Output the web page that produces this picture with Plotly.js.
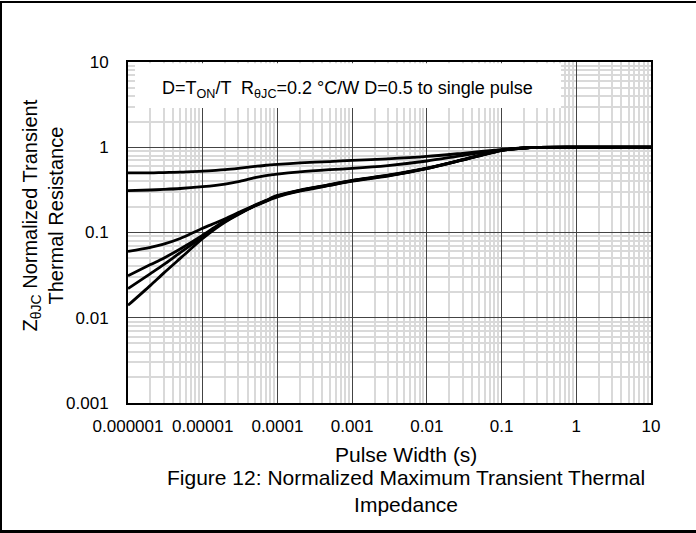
<!DOCTYPE html>
<html>
<head>
<meta charset="utf-8">
<script src="https://cdn.plot.ly/plotly-3.0.1.min.js"></script>
<style>
  html, body { margin: 0; padding: 0; background: #fff; overflow: hidden; }
  .fl { position: absolute; background: #000; }
  #chart { position: absolute; left: 0; top: 0; width: 696px; height: 533px; }
</style>
</head>
<body>
<div id="chart"></div>
<div class="fl" style="left:0;top:1px;width:696px;height:2px;"></div>
<div class="fl" style="left:0;top:1px;width:2px;height:531px;"></div>
<div class="fl" style="left:0;top:530px;width:696px;height:3px;"></div>
<script>
// Pulse width (s)
const pulseWidth = [1e-6, 2e-6, 3e-6, 5e-6, 1e-5, 1.5e-5, 2e-5, 3e-5, 5e-5, 7e-5, 1e-4, 2e-4, 5e-4, 1e-3, 3e-3, 1e-2, 3e-2, 1e-1, 2e-1, 3e-1, 1, 10];
// Normalized transient thermal resistance per duty cycle
const zD05   = [0.50, 0.50, 0.505, 0.51, 0.525, 0.535, 0.545, 0.565, 0.595, 0.615, 0.63, 0.655, 0.68, 0.70, 0.73, 0.78, 0.85, 0.94, 0.98, 0.995, 1.0, 1.0];
const zD03   = [0.31, 0.315, 0.32, 0.328, 0.345, 0.358, 0.37, 0.395, 0.44, 0.465, 0.485, 0.515, 0.545, 0.565, 0.61, 0.69, 0.80, 0.93, 0.98, 0.995, 1.0, 1.0];
const zD01   = [0.060, 0.067, 0.073, 0.085, 0.112, 0.130, 0.145, 0.171, 0.210, 0.238, 0.272, 0.315, 0.365, 0.41, 0.47, 0.57, 0.715, 0.925, 0.98, 0.995, 1.0, 1.0];
const zD005  = [0.031, 0.042, 0.050, 0.064, 0.093, 0.118, 0.137, 0.166, 0.207, 0.235, 0.268, 0.312, 0.362, 0.407, 0.467, 0.567, 0.712, 0.92, 0.98, 0.995, 1.0, 1.0];
const zD002  = [0.022, 0.033, 0.042, 0.058, 0.089, 0.115, 0.135, 0.165, 0.206, 0.234, 0.266, 0.309, 0.359, 0.404, 0.464, 0.564, 0.709, 0.918, 0.98, 0.995, 1.0, 1.0];
const zSingle= [0.014, 0.024, 0.0334, 0.0497, 0.085, 0.112, 0.133, 0.163, 0.204, 0.232, 0.262, 0.306, 0.357, 0.40, 0.46, 0.56, 0.705, 0.915, 0.98, 0.995, 1.0, 1.0];

const seriesNames = ['D=0.5', 'D=0.3', 'D=0.1', 'D=0.05', 'D=0.02', 'Single pulse'];
const seriesValues = [zD05, zD03, zD01, zD005, zD002, zSingle];

const xTickVals = [1e-6, 1e-5, 1e-4, 1e-3, 1e-2, 1e-1, 1, 10];
const xTickText = ['0.000001', '0.00001', '0.0001', '0.001', '0.01', '0.1', '1', '10'];
const yTickVals = [0.001, 0.01, 0.1, 1, 10];
const yTickText = ['0.001', '0.01', '0.1', '1', '10'];

function minorVals(majors) {
  const out = [];
  for (let i = 0; i < majors.length - 1; i++) {
    for (let k = 2; k <= 9; k++) out.push(majors[i] * k);
  }
  return out;
}

const traces = seriesValues.map((v, i) => ({
  type: 'scatter', mode: 'lines', name: seriesNames[i],
  x: pulseWidth, y: v,
  line: { color: '#000', width: 2.8, shape: 'spline', smoothing: 0.8 },
  hoverinfo: 'skip'
}));

const font = 'Liberation Sans, Arial, sans-serif';

const axisCommon = {
  type: 'log', tickmode: 'array', showline: true, linecolor: '#000', linewidth: 2, mirror: true,
  showgrid: true, gridcolor: '#444', gridwidth: 1, zeroline: false, ticks: '',
  tickfont: { family: font, size: 17, color: '#000' }
};

const layout = {
  width: 696, height: 533,
  margin: { l: 128, r: 45, t: 62, b: 130 },
  paper_bgcolor: 'rgba(0,0,0,0)', plot_bgcolor: '#fff',
  showlegend: false,
  xaxis: Object.assign({}, axisCommon, {
    range: [-6, 1], tickvals: xTickVals, ticktext: xTickText, ticklabelstandoff: 7,
    minor: { tickmode: 'array', tickvals: minorVals(xTickVals), showgrid: true, gridcolor: '#d9d9d9', gridwidth: 2, ticks: '' }
  }),
  yaxis: Object.assign({}, axisCommon, {
    range: [-3, 1], tickvals: yTickVals, ticktext: yTickText, ticklabelstandoff: 14,
    minor: { tickmode: 'array', tickvals: minorVals(yTickVals), showgrid: true, gridcolor: '#d9d9d9', gridwidth: 2, ticks: '' }
  }),
  shapes: [{
    type: 'rect', xref: 'paper', yref: 'paper', layer: 'above',
    x0: 0.0134, x1: 0.828, y0: 0.865, y1: 0.996,
    fillcolor: '#fff', line: { width: 0 }
  }],
  annotations: [
    {
      xref: 'paper', yref: 'paper', x: 0.42, y: 0.92, xanchor: 'center', yanchor: 'middle',
      text: 'D=T<sub>ON</sub>/T  R<sub>θJC</sub>=0.2 °C/W D=0.5 to single pulse', showarrow: false,
      font: { family: font, size: 18, color: '#000' }
    },
    {
      xref: 'paper', yref: 'paper', x: -0.1625, y: 0.55, xanchor: 'center', yanchor: 'middle',
      textangle: -90, showarrow: false,
      text: 'Z<sub>θJC</sub> Normalized Transient<br>Thermal Resistance',
      font: { family: font, size: 20, color: '#000' }
    },
    {
      xref: 'paper', yref: 'paper', x: 0.5315, y: -0.1496, xanchor: 'center', yanchor: 'middle',
      text: 'Pulse Width (s)', showarrow: false,
      font: { family: font, size: 21, color: '#000' }
    },
    {
      xref: 'paper', yref: 'paper', x: 0.5315, y: -0.2595, xanchor: 'center', yanchor: 'middle',
      text: 'Figure 12: Normalized Maximum Transient Thermal<br>Impedance', showarrow: false,
      font: { family: font, size: 21, color: '#000' }
    }
  ]
};

Plotly.newPlot('chart', traces, layout, { displayModeBar: false, staticPlot: true });
</script>
</body>
</html>
